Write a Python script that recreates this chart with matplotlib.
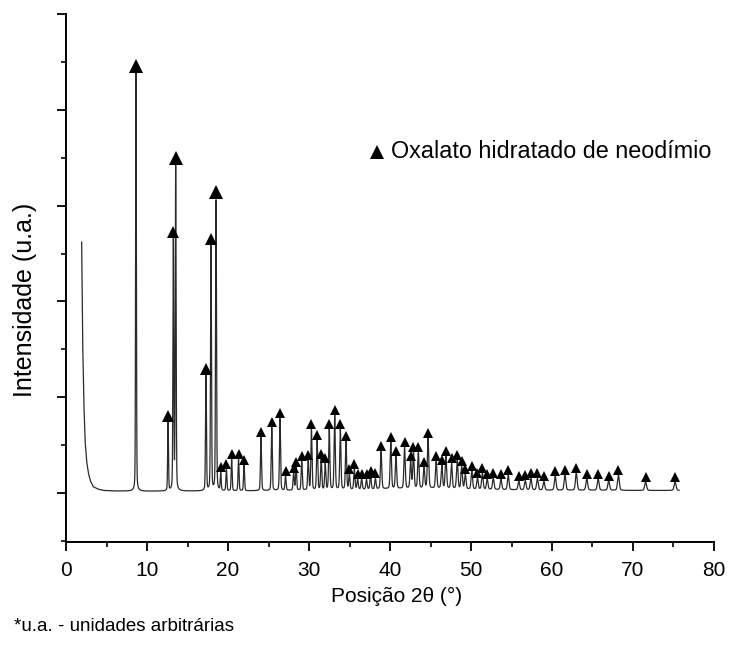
import matplotlib
matplotlib.use("Agg")
import matplotlib.pyplot as plt
import matplotlib.transforms as mtransforms
from matplotlib.ticker import MultipleLocator, NullFormatter
import numpy as np

plt.rcParams["font.family"] = ["Liberation Sans", "DejaVu Sans"]

# background (low-angle scatter + baseline)
bg_pos = [1.93, 2.05, 2.2, 2.35, 2.55, 2.76, 3.0, 3.37, 4.0, 4.6, 6.0, 10.0,
          20.0, 30.0, 35.0, 40.0, 45.0, 50.0, 55.0, 60.0, 65.0, 70.0, 75.7]
bg_int = [2.62, 1.6, 0.95, 0.55, 0.33, 0.21, 0.13, 0.066, 0.04, 0.028, 0.022, 0.02,
          0.022, 0.03, 0.035, 0.045, 0.05, 0.04, 0.035, 0.03, 0.03, 0.028, 0.028]

# marked reflections of neodymium oxalate hydrate: 2theta and height
peak_pos = [8.64, 12.6, 13.25, 13.54, 17.28, 17.9, 18.52, 19.1, 19.8, 20.45,
            21.3, 21.98, 24.07, 25.4, 26.42, 27.1, 28.1, 28.4, 29.1, 29.9,
            30.3, 31.0, 31.5, 32.0, 32.5, 33.17, 33.87, 34.57, 34.98, 35.6,
            36.0, 36.5, 37.1, 37.6, 38.2, 38.9, 40.1, 40.74, 41.8, 42.55,
            42.9, 43.5, 44.2, 44.7, 45.7, 46.4, 46.9, 47.6, 48.3, 48.85,
            49.3, 50.1, 50.8, 51.4, 52.0, 52.75, 53.7, 54.6, 55.9, 56.7,
            57.4, 58.2, 59.0, 60.4, 61.6, 63.0, 64.3, 65.7, 67.0, 68.2,
            71.56, 75.2]
peak_int = [4.36, 0.71, 2.6, 3.37, 1.2, 2.55, 3.03, 0.18, 0.23, 0.33,
            0.33, 0.27, 0.56, 0.66, 0.75, 0.15, 0.18, 0.24, 0.3, 0.31,
            0.63, 0.52, 0.32, 0.27, 0.63, 0.78, 0.63, 0.5, 0.16, 0.21,
            0.11, 0.11, 0.1, 0.14, 0.11, 0.4, 0.49, 0.34, 0.43, 0.28,
            0.37, 0.37, 0.22, 0.52, 0.28, 0.24, 0.34, 0.26, 0.3, 0.23,
            0.15, 0.19, 0.12, 0.17, 0.11, 0.12, 0.11, 0.15, 0.09, 0.1,
            0.12, 0.12, 0.09, 0.15, 0.16, 0.18, 0.12, 0.12, 0.1, 0.16,
            0.09, 0.09]

legend_text = "Oxalato hidratado de neodímio"

# build the trace
tt = np.arange(1.93, 75.7, 0.01)
yy = np.interp(tt, bg_pos, bg_int)
for p, h in zip(peak_pos, peak_int):
    w = 0.09 + 0.0025 * p
    g = np.exp(-4 * np.log(2) * ((tt - p) / w) ** 2)
    lz = 1 / (1 + 4 * ((tt - p) / w) ** 2)
    yy += h * (0.75 * g + 0.25 * lz)

fig = plt.figure(figsize=(7.36, 6.55), dpi=100)
ax = fig.add_axes([0.0897, 0.1725, 0.8804, 0.8061])
ax.plot(tt, yy, color="#2a2a2a", lw=0.9, zorder=2)

# triangles on top of the peaks: large for the strongest, medium for other
# low-angle main lines, small for the rest
tops = [yy[np.argmin(np.abs(tt - p))] for p in peak_pos]
def size_of(p, h):
    if h >= 3.0:
        return 10
    if h >= 0.7 and p < 19:
        return 8
    return 6.5
for ms in (10, 8, 6.5):
    sel = [i for i in range(len(peak_pos)) if size_of(peak_pos[i], peak_int[i]) == ms]
    tr = mtransforms.offset_copy(ax.transData, fig=fig, y=ms * 0.55, units="points")
    ax.plot([peak_pos[i] for i in sel], [tops[i] for i in sel], ls="none",
            marker="^", ms=ms, color="black", mew=0, transform=tr, zorder=3)

ax.plot([0.48], [0.739], ls="none", marker="^", ms=10.5, color="black", mew=0,
        transform=ax.transAxes)
ax.text(0.502, 0.739, legend_text, transform=ax.transAxes, fontsize=16.8,
        va="center", ha="left")

ax.set_xlim(0, 80)
ax.set_ylim(-0.51, 5.0)
ax.xaxis.set_major_locator(MultipleLocator(10))
ax.xaxis.set_minor_locator(MultipleLocator(5))
ax.yaxis.set_major_locator(MultipleLocator(1))
ax.yaxis.set_minor_locator(MultipleLocator(0.5))
ax.yaxis.set_major_formatter(NullFormatter())
for s in ["top", "right"]:
    ax.spines[s].set_visible(False)
for s in ["left", "bottom"]:
    ax.spines[s].set_linewidth(1.4)
ax.tick_params(which="major", direction="out", length=6.5, width=1.3, labelsize=15, pad=7.5)
ax.tick_params(which="minor", direction="out", length=3.5, width=1.2)

fig.text(0.034, 0.542, "Intensidade (u.a.)", rotation=90, fontsize=18,
         ha="center", va="center")
fig.text(0.539, 0.090, "Posição 2θ (°)", fontsize=15, ha="center", va="center")
fig.text(0.019, 0.043, "*u.a. - unidades arbitrárias", fontsize=13.5,
         ha="left", va="center")

fig.savefig("out.png", dpi=100)
